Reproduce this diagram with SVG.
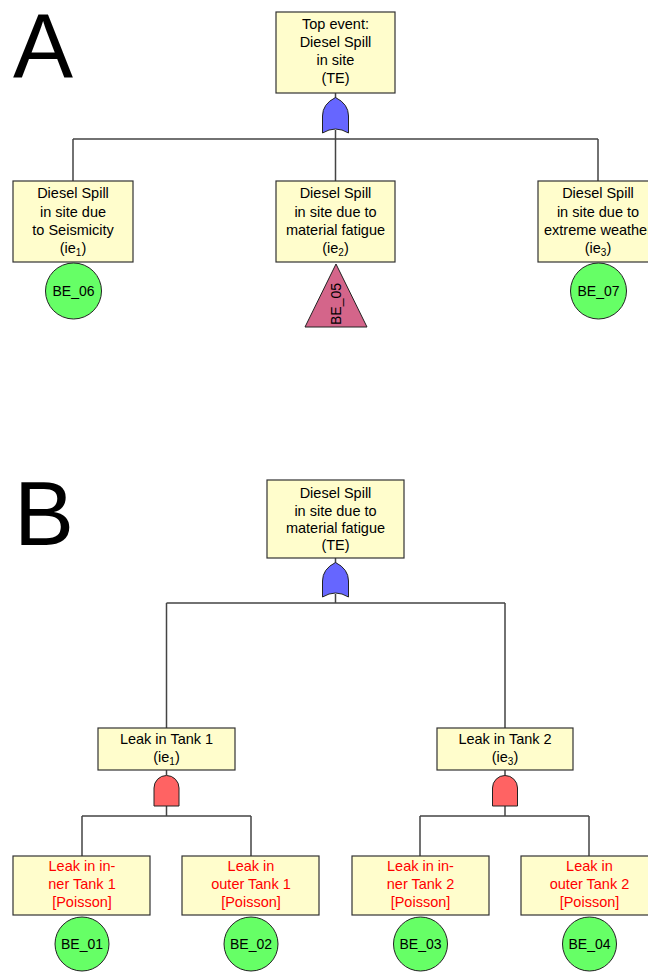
<svg xmlns="http://www.w3.org/2000/svg" width="648" height="972" viewBox="0 0 648 972">
<style>
.box{fill:#FFFDCC;stroke:#333;stroke-width:1.2}
.t{font-family:"Liberation Sans",Arial,sans-serif;font-size:14.5px;text-anchor:middle;fill:#000}
.r{fill:#FF0000}
.be{fill:#66FF66;stroke:#222;stroke-width:1}
.or{fill:#6666FF;stroke:#222;stroke-width:1}
.and{fill:#FF6363;stroke:#222;stroke-width:1}
.tri{fill:#D4658A;stroke:#222;stroke-width:1}
.big{font-family:"Liberation Sans",Arial,sans-serif;font-size:90px;fill:#000}
.c{stroke:#444;stroke-width:1.5;fill:none}
.sub{font-size:10px}
</style>
<rect width="648" height="972" fill="#fff"/>
<text class="big" x="13" y="77">A</text>
<text class="big" x="14" y="545">B</text>

<g id="connectors">
<path class="c" d="M335.5,93 V98 M335.5,130 V139 M73,139 H598 M73,139 V181 M335.5,139 V181 M598,139 V181"/>
<path class="c" d="M335.5,558 V563 M335.5,594 V603 M166.5,603 H505 M166.5,603 V728 M505,603 V728"/>
<path class="c" d="M166.5,770 V775 M166.5,806 V816 M82,816 H251 M82,816 V856 M251,816 V856"/>
<path class="c" d="M505,770 V775 M505,806 V816 M420,816 H589 M420,816 V856 M589,816 V856"/>
</g>

<g id="A_TE">
<rect class="box" x="276" y="12" width="119" height="81"/>
<text class="t" x="335.5" y="29">Top event:</text>
<text class="t" x="335.5" y="47">Diesel Spill</text>
<text class="t" x="335.5" y="65">in site</text>
<text class="t" x="335.5" y="83">(TE)</text>
</g>
<g id="A_gate">
<path class="or" d="M322.5,133 V116 Q322.5,104 335.5,97.5 Q348.5,104 348.5,116 V133 Q335.5,125 322.5,133 Z"/>
</g>
<g id="A_ie1">
<rect class="box" x="13" y="181" width="120" height="81"/>
<text class="t" x="73" y="198">Diesel Spill</text>
<text class="t" x="73" y="216.5">in site due</text>
<text class="t" x="73" y="235">to Seismicity</text>
<text class="t" x="73" y="253">(ie<tspan class="sub" dy="3">1</tspan><tspan dy="-3">)</tspan></text>
</g>
<g id="A_ie2">
<rect class="box" x="276" y="181" width="119" height="81"/>
<text class="t" x="335.5" y="198">Diesel Spill</text>
<text class="t" x="335.5" y="216.5">in site due to</text>
<text class="t" x="335.5" y="235">material fatigue</text>
<text class="t" x="335.5" y="253">(ie<tspan class="sub" dy="3">2</tspan><tspan dy="-3">)</tspan></text>
</g>
<g id="A_ie3">
<rect class="box" x="538" y="181" width="120" height="81"/>
<text class="t" x="598" y="198">Diesel Spill</text>
<text class="t" x="598" y="216.5">in site due to</text>
<text class="t" x="598" y="235">extreme weather</text>
<text class="t" x="598" y="253">(ie<tspan class="sub" dy="3">3</tspan><tspan dy="-3">)</tspan></text>
</g>
<g id="BE_06">
<circle class="be" cx="73.5" cy="291" r="28"/>
<text class="t" x="73.5" y="296" style="font-size:14px">BE_06</text>
</g>
<g id="BE_05">
<path class="tri" d="M336,264 L367,327 L305,327 Z"/>
<text class="t" transform="translate(341,304) rotate(-90)" x="0" y="0" style="font-size:14px">BE_05</text>
</g>
<g id="BE_07">
<circle class="be" cx="598.5" cy="291" r="28"/>
<text class="t" x="598.5" y="296" style="font-size:14px">BE_07</text>
</g>

<g id="B_TE">
<rect class="box" x="267" y="480" width="137" height="78"/>
<text class="t" x="335.5" y="498">Diesel Spill</text>
<text class="t" x="335.5" y="515.5">in site due to</text>
<text class="t" x="335.5" y="533">material fatigue</text>
<text class="t" x="335.5" y="550">(TE)</text>
</g>
<g id="B_gate">
<path class="or" d="M322.5,597 V581 Q322.5,569 335.5,562.5 Q348.5,569 348.5,581 V597 Q335.5,589 322.5,597 Z"/>
</g>
<g id="B_ie1">
<rect class="box" x="98" y="728" width="137" height="42"/>
<text class="t" x="166.5" y="744">Leak in Tank 1</text>
<text class="t" x="166.5" y="762">(ie<tspan class="sub" dy="3">1</tspan><tspan dy="-3">)</tspan></text>
</g>
<g id="B_gate1">
<path class="and" d="M154,806 V788 A12.5,12.5 0 0 1 179,788 V806 Z"/>
</g>
<g id="B_ie3">
<rect class="box" x="437" y="728" width="136" height="42"/>
<text class="t" x="505" y="744">Leak in Tank 2</text>
<text class="t" x="505" y="762">(ie<tspan class="sub" dy="3">3</tspan><tspan dy="-3">)</tspan></text>
</g>
<g id="B_gate3">
<path class="and" d="M492.5,806 V788 A12.5,12.5 0 0 1 517.5,788 V806 Z"/>
</g>
<g id="B_inner1">
<rect class="box" x="13" y="856" width="137" height="59"/>
<text class="t r" x="82" y="871">Leak in in-</text>
<text class="t r" x="82" y="889">ner Tank 1</text>
<text class="t r" x="82" y="907">[Poisson]</text>
</g>
<g id="B_outer1">
<rect class="box" x="182" y="856" width="137" height="59"/>
<text class="t r" x="251" y="871">Leak in</text>
<text class="t r" x="251" y="889">outer Tank 1</text>
<text class="t r" x="251" y="907">[Poisson]</text>
</g>
<g id="B_inner2">
<rect class="box" x="352" y="856" width="137" height="59"/>
<text class="t r" x="420.5" y="871">Leak in in-</text>
<text class="t r" x="420.5" y="889">ner Tank 2</text>
<text class="t r" x="420.5" y="907">[Poisson]</text>
</g>
<g id="B_outer2">
<rect class="box" x="521" y="856" width="137" height="59"/>
<text class="t r" x="589.5" y="871">Leak in</text>
<text class="t r" x="589.5" y="889">outer Tank 2</text>
<text class="t r" x="589.5" y="907">[Poisson]</text>
</g>
<g id="BE_01">
<circle class="be" cx="82" cy="944" r="27"/>
<text class="t" x="82" y="949" style="font-size:14px">BE_01</text>
</g>
<g id="BE_02">
<circle class="be" cx="251" cy="944" r="27"/>
<text class="t" x="251" y="949" style="font-size:14px">BE_02</text>
</g>
<g id="BE_03">
<circle class="be" cx="420.5" cy="944" r="27"/>
<text class="t" x="420.5" y="949" style="font-size:14px">BE_03</text>
</g>
<g id="BE_04">
<circle class="be" cx="589.5" cy="944" r="27"/>
<text class="t" x="589.5" y="949" style="font-size:14px">BE_04</text>
</g>
</svg>
